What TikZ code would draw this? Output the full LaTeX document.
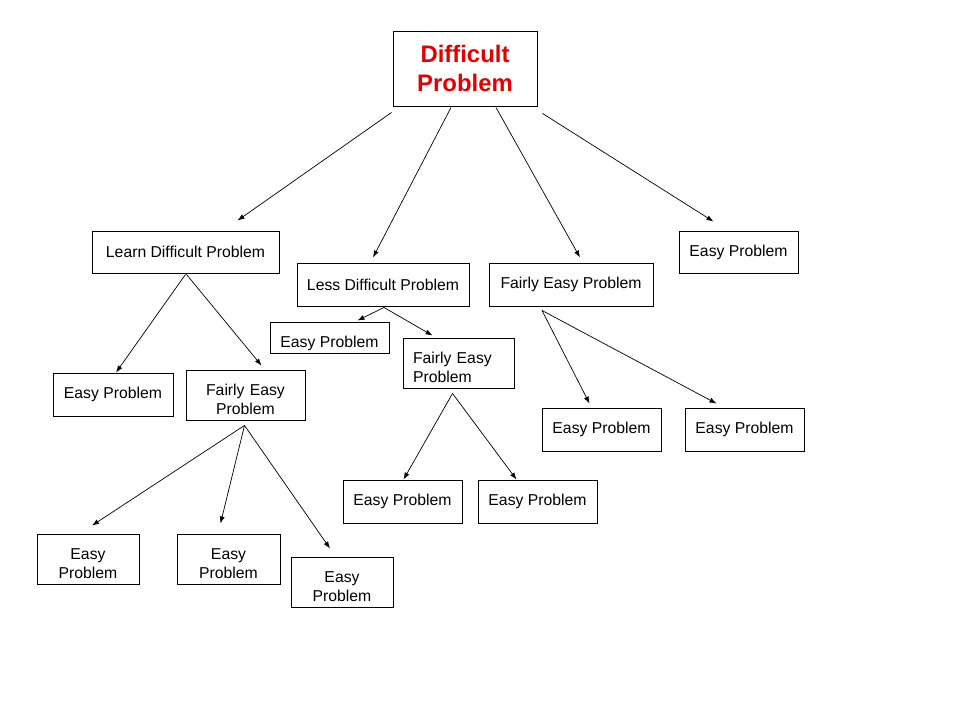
\documentclass[tikz,border=0pt]{standalone}
\usepackage{fontspec}
\setmainfont{Liberation Sans}
\usepackage{xcolor}
\usepackage{tikz}
\usetikzlibrary{arrows.meta}
\definecolor{titlered}{RGB}{228,0,0}

\begin{document}
\begin{tikzpicture}[x=0.025cm,y=-0.025cm,>={Latex[length=5pt,width=3.6pt]},
  font=\fontsize{11.2pt}{13.5pt}\selectfont,
  box/.style={draw,line width=0.65pt,inner sep=0pt,align=center},
  wh/.style 2 args={minimum width=#1*0.025cm,minimum height=#2*0.025cm},
  lowered/.style={text height=#1},
  twoline/.style={text width=#1*0.025cm,text height=14pt},
  link/.style={->,line width=0.5pt}]
  \useasboundingbox (0,0) rectangle (960,720);
  % top problem
  \node[box,wh={144}{75},text=titlered,
        font=\fontsize{17pt}{20.6pt}\selectfont\bfseries] (root) at (465,68.5) {Difficult\\Problem};
  % first level
  \node[box,wh={187}{42}] (learn) at (185.5,252) {Learn Difficult Problem};
  \node[box,wh={172}{43}] (less) at (383,284.5) {Less Difficult Problem};
  \node[box,wh={164}{43}] (fair) at (571,284.5) {Fairly Easy Problem};
  \node[box,wh={119}{42}] (easytop) at (738.5,252) {Easy Problem};
  % under learn
  \node[box,wh={120}{43}] (easyA) at (113,394.5) {Easy Problem};
  \node[box,wh={119}{50},twoline=119] (fairA) at (245.5,395) {Fairly Easy\\Problem};
  \node[box,wh={102}{50},twoline=102] (easyA1) at (88,559) {Easy\\Problem};
  \node[box,wh={103}{50},twoline=103] (easyA2) at (228.5,559) {Easy\\Problem};
  \node[box,wh={102}{50},twoline=102] (easyA3) at (342,582) {Easy\\Problem};
  % under less
  \node[box,wh={119}{31},lowered=16.5pt] (easyB) at (329.5,337.5) {Easy Problem};
  \node[box,wh={111}{50},lowered=14pt,align=left,text width=91*0.025cm,inner xsep=10*0.025cm] (fairB) at (458.5,363) {Fairly Easy\\Problem};
  \node[box,wh={119}{43}] (easyB1) at (402.5,501.5) {Easy Problem};
  \node[box,wh={119}{43}] (easyB2) at (537.5,501.5) {Easy Problem};
  % under fair
  \node[box,wh={119}{43}] (easyC1) at (601.5,429.5) {Easy Problem};
  \node[box,wh={119}{43}] (easyC2) at (744.5,429.5) {Easy Problem};

  \draw[link] ([shift={(-1,6)}]root.south west) -- ([shift={(52,-10)}]learn.north);
  \draw[link] ([shift={(-14,1)}]root.south) -- ([shift={(-10,-5)}]less.north);
  \draw[link] ([shift={(31,1)}]root.south) -- ([shift={(9,-5)}]fair.north);
  \draw[link] ([shift={(5,7)}]root.south east) -- ([shift={(-25,-9)}]easytop.north);

  \draw[link] ([shift={(0,1)}]learn.south) -- ([shift={(3,0)}]easyA.north);
  \draw[link] ([shift={(1,1)}]learn.south) -- ([shift={(16,-4)}]fairA.north);
  \draw[link] ([shift={(-1,5)}]fairA.south) -- ([shift={(4,-8)}]easyA1.north);
  \draw[link] ([shift={(-1,5)}]fairA.south) -- ([shift={(-8,-10)}]easyA2.north);
  \draw[link] ([shift={(-1,5)}]fairA.south) -- ([shift={(-12,-8)}]easyA3.north);

  \draw[link] ([shift={(1,1)}]less.south) -- ([shift={(28,-1)}]easyB.north);
  \draw[link] ([shift={(1,1)}]less.south) -- ([shift={(-26,-2)}]fairB.north);
  \draw[link] ([shift={(-6,5)}]fairB.south) -- ([shift={(1,0)}]easyB1.north);
  \draw[link] ([shift={(-6,5)}]fairB.south) -- ([shift={(-21,0)}]easyB2.north);

  \draw[link] ([shift={(-29,4)}]fair.south) -- ([shift={(-12,-4)}]easyC1.north);
  \draw[link] ([shift={(-29,4)}]fair.south) -- ([shift={(-28,-4)}]easyC2.north);
\end{tikzpicture}
\end{document}
